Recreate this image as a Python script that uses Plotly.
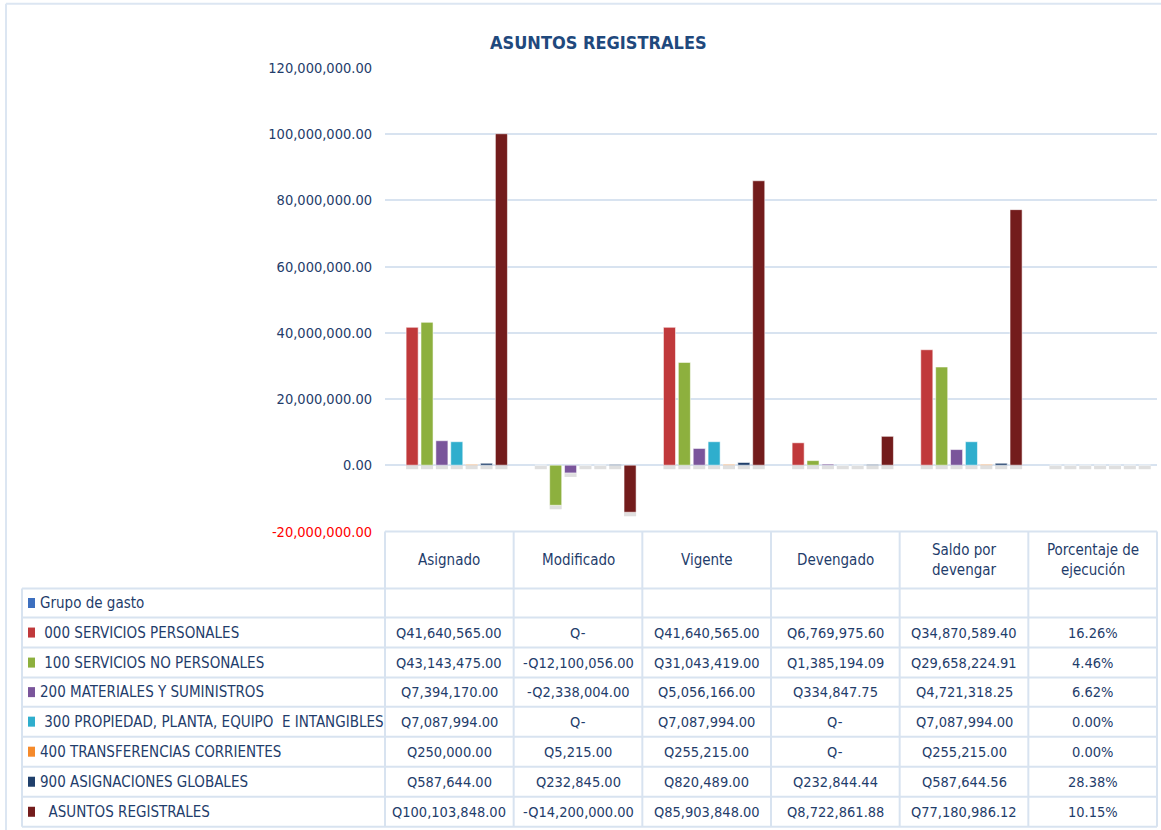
import plotly.graph_objects as go

# ---------------- data ----------------
categories = ["Asignado", "Modificado", "Vigente", "Devengado", "Saldo por devengar", "Porcentaje de ejecución"]
header_labels = ["Asignado", "Modificado", "Vigente", "Devengado", "Saldo por<br>devengar", "Porcentaje de<br>ejecución"]

series_names = [
    "Grupo de gasto",
    " 000 SERVICIOS PERSONALES",
    " 100 SERVICIOS NO PERSONALES",
    "200 MATERIALES Y SUMINISTROS",
    " 300 PROPIEDAD, PLANTA, EQUIPO  E INTANGIBLES",
    "400 TRANSFERENCIAS CORRIENTES",
    "900 ASIGNACIONES GLOBALES",
    "  ASUNTOS REGISTRALES",
]
series_colors = ["#3D6FBF", "#C0393B", "#8DB03E", "#7A559B", "#2FAECD", "#F58A2B", "#1F3F6B", "#731C1C"]

# money columns: Asignado, Modificado, Vigente, Devengado, Saldo por devengar
grupo_gasto = [None, None, None, None, None]
s000 = [41640565.00, 0.0, 41640565.00, 6769975.60, 34870589.40]
s100 = [43143475.00, -12100056.00, 31043419.00, 1385194.09, 29658224.91]
s200 = [7394170.00, -2338004.00, 5056166.00, 334847.75, 4721318.25]
s300 = [7087994.00, 0.0, 7087994.00, 0.0, 7087994.00]
s400 = [250000.00, 5215.00, 255215.00, 0.0, 255215.00]
s900 = [587644.00, 232845.00, 820489.00, 232844.44, 587644.56]
asuntos = [100103848.00, -14200000.00, 85903848.00, 8722861.88, 77180986.12]

# porcentaje de ejecución (%)
pct = [None, 16.26, 4.46, 6.62, 0.00, 0.00, 28.38, 10.15]

money = [grupo_gasto, s000, s100, s200, s300, s400, s900, asuntos]

y_tickvals = [-20000000, 0, 20000000, 40000000, 60000000, 80000000, 100000000, 120000000]
y_range = [-20000000, 120000000]

# ---------------- layout geometry (target pixels) ----------------
W = 1161
FIG_H = 850
Y_OFF, Y_SCALE = 8.2, 0.98    # vertical placement observed in the renderer
PX0, PX1 = 385, 1157          # plot / table columns x-range
PY_TOP, PY_BOT = 68, 531      # plot area y (120M .. -20M)
TABLE_LEFT = 22
ROW_Y = [531, 588, 617, 647, 677, 706, 736, 766, 796, 826]

NAVY = "#1F3D6B"
GRID = "#D8E3F0"
FONT = "Liberation Sans Narrow, Arial Narrow, DejaVu Sans Condensed, sans-serif"


def fx(px):
    return px / W


def fy(py):
    return 1 - ((py - Y_OFF) / Y_SCALE) / FIG_H


def fmt_money(v):
    if v is None:
        return ""
    if abs(v) < 0.005:
        return "Q-"
    s = "Q" + format(abs(v), ",.2f")
    return "-" + s if v < 0 else s


def fmt_tick(v):
    s = format(v, ",.2f")
    if v < 0:
        return "<span style='color:#FF0000'>" + s + "</span>"
    return s


# data units per screen pixel (for the small drop shadow under bars)
units_per_px = (y_range[1] - y_range[0]) / (PY_BOT - PY_TOP)
shadow_h = 4 * units_per_px

fig = go.Figure()
all_vals = []
for i in range(len(series_names)):
    all_vals.append(list(money[i]) + [None if pct[i] is None else pct[i] / 100.0])

# shadows (drawn first, same slot as the real bar)
for i, name in enumerate(series_names):
    vals = all_vals[i]
    fig.add_trace(go.Bar(
        x=categories,
        y=[None if v is None else -shadow_h for v in vals],
        base=[None if v is None else min(v, 0) for v in vals],
        offsetgroup=str(i), marker=dict(color="rgba(140,140,140,0.28)", line=dict(width=0)),
        showlegend=False, hoverinfo="skip",
    ))
for i, name in enumerate(series_names):
    fig.add_trace(go.Bar(
        x=categories, y=all_vals[i], name=name, offsetgroup=str(i),
        marker=dict(color=series_colors[i], line=dict(color="rgba(255,255,255,0.55)", width=1)),
        showlegend=False,
    ))

shapes = []
line_style = dict(color=GRID, width=2)
# outer chart border
shapes.append(dict(type="line", xref="paper", yref="paper", x0=fx(6), x1=fx(W), y0=fy(4), y1=fy(4), line=dict(color="#DCE6F2", width=2)))
shapes.append(dict(type="line", xref="paper", yref="paper", x0=fx(6), x1=fx(6), y0=fy(4), y1=0, line=dict(color="#DCE6F2", width=2)))

# table horizontal lines
shapes.append(dict(type="line", xref="paper", yref="paper", x0=fx(PX0), x1=fx(PX1), y0=fy(ROW_Y[0]), y1=fy(ROW_Y[0]), line=line_style))
for yy in ROW_Y[1:]:
    shapes.append(dict(type="line", xref="paper", yref="paper", x0=fx(TABLE_LEFT), x1=fx(PX1), y0=fy(yy), y1=fy(yy), line=line_style))
# table vertical lines
shapes.append(dict(type="line", xref="paper", yref="paper", x0=fx(TABLE_LEFT), x1=fx(TABLE_LEFT), y0=fy(ROW_Y[1]), y1=fy(ROW_Y[-1]), line=line_style))
ncol = len(categories)
col_w = (PX1 - PX0) / ncol
for c in range(ncol + 1):
    xx = PX0 + c * col_w
    shapes.append(dict(type="line", xref="paper", yref="paper", x0=fx(xx), x1=fx(xx), y0=fy(ROW_Y[0]), y1=fy(ROW_Y[-1]), line=line_style))

annotations = []
# title
annotations.append(dict(text="<b>ASUNTOS REGISTRALES</b>", x=fx(598), y=fy(43), xref="paper", yref="paper",
                        showarrow=False, xanchor="center", yanchor="middle",
                        font=dict(family=FONT, size=18, color="#1F497D")))
# header labels
for c, lab in enumerate(header_labels):
    annotations.append(dict(text=lab, x=fx(PX0 + (c + 0.5) * col_w), y=fy((ROW_Y[0] + ROW_Y[1]) / 2),
                            xref="paper", yref="paper", showarrow=False, xanchor="center", yanchor="middle",
                            font=dict(family=FONT, size=15, color=NAVY)))
# rows
for r, name in enumerate(series_names):
    y0, y1 = ROW_Y[r + 1], ROW_Y[r + 2]
    yc = (y0 + y1) / 2
    shapes.append(dict(type="rect", xref="paper", yref="paper", x0=fx(28), x1=fx(35), y0=fy(yc - 5), y1=fy(yc + 5),
                       fillcolor=series_colors[r], line=dict(width=0)))
    annotations.append(dict(text=name.replace(" ", "\u00a0"), x=fx(38), y=fy(yc), xref="paper", yref="paper",
                            showarrow=False, xanchor="left", yanchor="middle",
                            font=dict(family=FONT, size=15, color=NAVY)))
    cells = [fmt_money(v) for v in money[r]] + ["" if pct[r] is None else format(pct[r], ".2f") + "%"]
    if money[r][0] is None:
        cells = [""] * ncol
    for c, txt in enumerate(cells):
        if not txt:
            continue
        annotations.append(dict(text=txt, x=fx(PX0 + (c + 0.5) * col_w), y=fy(yc), xref="paper", yref="paper",
                                showarrow=False, xanchor="center", yanchor="middle",
                                font=dict(family=FONT, size=14.5, color=NAVY)))

fig.update_layout(
    width=W, height=FIG_H, autosize=False,
    margin=dict(l=0, r=0, t=0, b=0, pad=0),
    paper_bgcolor="white", plot_bgcolor="white",
    barmode="group", bargap=0.075, bargroupgap=0.19,
    shapes=shapes, annotations=annotations,
    xaxis=dict(domain=[fx(PX0), fx(PX1)], showticklabels=False, showgrid=False, zeroline=False,
               showline=False, ticks="", fixedrange=True),
    yaxis=dict(domain=[fy(PY_BOT), fy(PY_TOP)], range=y_range,
               tickvals=y_tickvals, ticktext=[fmt_tick(v) for v in y_tickvals],
               showgrid=True, gridcolor=GRID, gridwidth=2, zeroline=True, zerolinecolor=GRID, zerolinewidth=2,
               showline=False, ticks="", ticklabelstandoff=12,
               tickfont=dict(family=FONT, size=14.5, color=NAVY), fixedrange=True),
    font=dict(family=FONT, color=NAVY),
)

fig.write_html("out.html", config={"displayModeBar": False},
               post_script="document.body.style.margin='0';")
